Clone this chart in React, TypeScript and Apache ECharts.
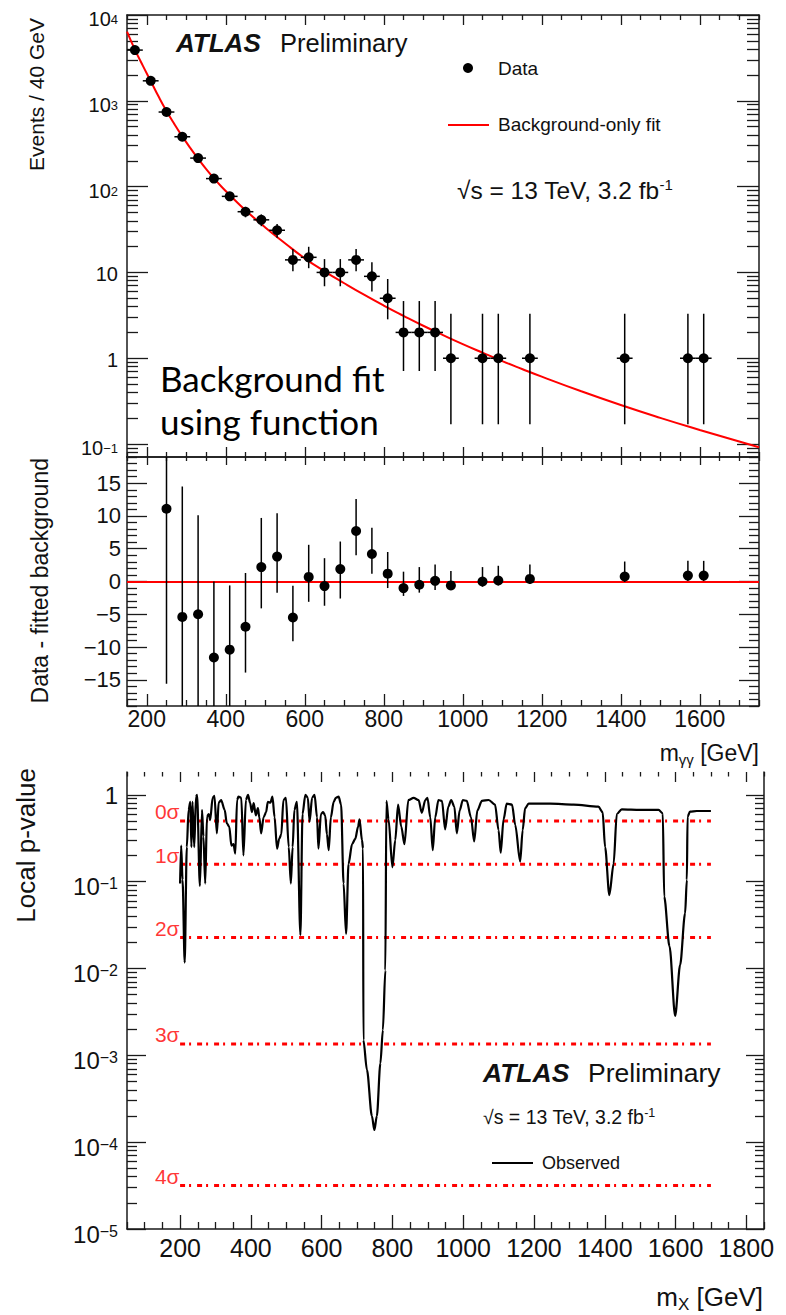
import React, { useEffect, useRef } from "react";
import * as echarts from "echarts";

// ---------------- data: top panel (events / 40 GeV) ----------------
const dataX = [170, 210, 250, 290, 330, 370, 410, 450, 490, 530, 570, 610, 650, 690, 730, 770, 810, 850, 890, 930, 970, 1050, 1090, 1170, 1410, 1570, 1610];
const dataY = [3900, 1710, 740, 381, 215, 124, 77, 51, 41, 31, 14, 15, 10, 10, 14, 9, 5, 2, 2, 2, 1, 1, 1, 1, 1, 1, 1];
const dataErrLo = [3838, 1669, 713, 362, 200, 113, 68.2, 43.9, 34.6, 25.4, 10.3, 11.2, 6.9, 6.9, 10.3, 6.0, 2.84, 0.71, 0.71, 0.71, 0.17, 0.17, 0.17, 0.17, 0.17, 0.17, 0.17];
const dataErrHi = [3962, 1751, 767, 401, 230, 135, 85.8, 58.1, 47.4, 36.6, 18.8, 19.9, 14.3, 14.3, 18.8, 13.1, 8.38, 4.64, 4.64, 4.64, 3.3, 3.3, 3.3, 3.3, 3.3, 3.3, 3.3];
const binHalfWidth = 20;

const fitX = [150, 170, 190, 210, 230, 250, 270, 290, 310, 330, 350, 370, 390, 410, 450, 500, 550, 600, 650, 700, 750, 800, 850, 900, 950, 1000, 1050, 1100, 1150, 1200, 1300, 1400, 1500, 1600, 1700, 1750];
const fitY = [6400, 3950, 2570, 1700, 1120, 760, 535, 385, 283, 212, 161, 125, 99, 80, 53, 33.4, 21.9, 14.6, 10.3, 7.48, 5.5, 4.11, 3.12, 2.39, 1.86, 1.46, 1.16, 0.927, 0.75, 0.61, 0.412, 0.285, 0.202, 0.146, 0.107, 0.0916];

// ---------------- data: residual panel ----------------
const resX = [250, 290, 330, 370, 410, 450, 490, 530, 570, 610, 650, 690, 730, 770, 810, 850, 890, 930, 970, 1050, 1090, 1170, 1410, 1570, 1610];
const resY = [11.1, -5.4, -5.0, -11.6, -10.4, -6.9, 2.2, 3.8, -5.5, 0.7, -0.7, 1.9, 7.7, 4.2, 1.2, -1.0, -0.5, 0.1, -0.6, 0.0, 0.15, 0.4, 0.76, 0.9, 0.9];
const resLo = [-15.6, -25, -20, -23, -19.5, -13.9, -4.1, -1.7, -9.1, -3.1, -3.7, -2.6, 4.0, 1.2, -1.0, -2.2, -1.7, -1.3, -1.3, -0.8, -0.6, -0.4, -0.07, 0.07, 0.07];
const resHi = [38, 14.5, 10.1, 0.0, -0.6, 1.3, 9.7, 10.4, -0.66, 5.6, 3.56, 6.1, 12.6, 8.2, 4.5, 1.5, 2.2, 2.6, 1.6, 2.2, 2.4, 2.6, 3.05, 3.15, 3.15];

// ---------------- data: local p-value panel ----------------
const pX = [200, 203, 207, 213, 219, 224, 229, 232, 235, 240, 245, 248, 256, 262, 266, 271, 276, 281, 285, 292, 297, 304, 309, 316, 326, 332, 339, 345, 351, 356, 361, 365, 373, 379, 386, 392, 398, 403, 408, 414, 420, 424, 429, 436, 443, 448, 455, 461, 467, 474, 480, 486, 492, 499, 507, 513, 518, 523, 530, 540, 546, 554, 561, 566, 573, 580, 587, 591, 598, 604, 610, 615, 620, 626, 634, 640, 648, 655, 662, 669, 676, 686, 695, 703, 707, 714, 717, 718, 728, 742, 749, 756, 766, 773, 780, 783, 789, 800, 808, 816, 825, 834, 845, 860, 874, 883, 893, 899, 907, 914, 921, 930, 940, 949, 958, 966, 975, 982, 990, 999, 1010, 1022, 1031, 1040, 1053, 1072, 1090, 1100, 1106, 1114, 1123, 1138, 1147, 1161, 1168, 1175, 1185, 1246, 1312, 1382, 1394, 1401, 1413, 1425, 1434, 1448, 1500, 1552, 1564, 1568, 1583, 1599, 1613, 1627, 1632, 1634, 1641, 1660, 1700];
const pY = [0.095, 0.26, 0.105, 0.0117, 0.25, 0.67, 0.83, 0.25, 0.83, 0.25, 0.95, 1.0, 0.089, 0.67, 0.33, 0.095, 0.56, 0.6, 0.51, 0.92, 0.97, 0.36, 0.81, 0.87, 0.67, 0.47, 0.43, 0.26, 0.27, 0.21, 0.87, 0.95, 0.92, 0.2, 0.87, 1.0, 0.8, 0.63, 0.8, 0.58, 0.7, 0.55, 0.36, 0.55, 0.63, 0.83, 0.81, 0.95, 0.55, 0.24, 0.31, 0.35, 0.87, 0.92, 0.25, 0.095, 0.25, 0.67, 0.83, 0.0243, 0.6, 1.0, 0.92, 0.49, 0.92, 1.0, 0.55, 0.24, 0.6, 0.63, 0.58, 0.35, 0.23, 0.55, 0.83, 0.92, 0.95, 0.77, 0.095, 0.025, 0.16, 0.27, 0.31, 0.43, 0.52, 0.3, 0.24, 0.0015, 0.00068, 0.0002, 0.000138, 0.0002, 0.00081, 0.00195, 0.0095, 0.85, 0.52, 0.146, 0.3, 0.77, 0.43, 0.27, 0.87, 0.92, 0.87, 0.62, 0.87, 0.92, 0.55, 0.23, 0.55, 0.87, 0.85, 0.4, 0.73, 0.87, 0.73, 0.36, 0.66, 0.87, 0.85, 0.55, 0.29, 0.66, 0.85, 0.87, 0.77, 0.39, 0.215, 0.52, 0.79, 0.77, 0.45, 0.17, 0.39, 0.7, 0.79, 0.79, 0.77, 0.73, 0.63, 0.25, 0.07, 0.16, 0.6, 0.68, 0.67, 0.67, 0.61, 0.067, 0.018, 0.00284, 0.011, 0.043, 0.105, 0.56, 0.64, 0.65, 0.65];

const sigmaP = [0.5, 0.1587, 0.02275, 0.00135, 0.0000317];
const sigmaLabels = ["0σ", "1σ", "2σ", "3σ", "4σ"];
const sigmaRange = [200, 1700];

// ---------------- tick labels ----------------
const topXMajor = [200, 400, 600, 800, 1000, 1200, 1400, 1600];
const pXMajor = [200, 400, 600, 800, 1000, 1200, 1400, 1600, 1800];
const topYDecades = [-1, 0, 1, 2, 3, 4];
const pYDecades = [-5, -4, -3, -2, -1, 0];
const resYMajor = [-15, -10, -5, 0, 5, 10, 15];

// ---------------- layout ----------------
const FF = "'Liberation Sans', Arial, Helvetica, sans-serif";
const AXC = "#1a1a1a";
const TXT = "#111";
const TOP_YMIN = -1.151, TOP_YMAX = 4;
const P_YMIN = -5, P_YMAX = 0.262;

const lg = (v: number) => Math.log10(v);

function stepTicks(a: number, b: number, s: number, skip: number[]) {
  const r: number[] = [];
  for (let v = a; v <= b + 1e-9; v += s) {
    const vv = Math.round(v * 1000) / 1000;
    if (skip.indexOf(vv) < 0) r.push(vv);
  }
  return r;
}
function logMinor(d0: number, d1: number, lo: number, hi: number) {
  const r: number[] = [];
  for (let d = d0; d <= d1; d++) {
    for (let k = 2; k <= 9; k++) {
      const v = Math.log10(k) + d;
      if (v > lo && v < hi) r.push(v);
    }
  }
  return r;
}

function mkAxis(gridIndex: number, position: string, min: number, max: number, ticks: number[], len: number, showLine: boolean, label?: any) {
  return {
    type: "value",
    gridIndex,
    position,
    min,
    max,
    axisLine: { show: showLine, onZero: false, lineStyle: { color: AXC, width: 1.5 } },
    axisTick: { show: true, inside: true, length: len, customValues: ticks, lineStyle: { color: AXC, width: 1.3 } },
    axisLabel: label ? Object.assign({ show: true, fontFamily: FF, color: TXT }, label) : { show: false },
    splitLine: { show: false },
    minorTick: { show: false },
    axisPointer: { show: false },
  };
}

const logFmt = (v: number) => {
  const e = Math.round(v);
  if (e === 0) return "{c|1}";
  if (e === 1) return "{c|10}";
  return "{b|10}{s|" + (e < 0 ? "−" + -e : String(e)) + "}";
};
const plainFmt = (v: number) => String(Math.round(v));

const errRender = (withH: boolean) => (params: any, api: any) => {
  const x = api.value(0), y = api.value(1), lo = api.value(2), hi = api.value(3);
  const a = api.coord([x, lo]);
  const b = api.coord([x, hi]);
  const children: any[] = [
    { type: "line", shape: { x1: a[0], y1: a[1], x2: b[0], y2: b[1] }, style: { stroke: "#000", lineWidth: 1.5 } },
  ];
  if (withH) {
    const l = api.coord([x - binHalfWidth, y]);
    const r = api.coord([x + binHalfWidth, y]);
    children.push({ type: "line", shape: { x1: l[0], y1: l[1], x2: r[0], y2: r[1] }, style: { stroke: "#000", lineWidth: 1.5 } });
  }
  return { type: "group", children };
};

const txt = (x: number, y: number, text: string, fontSize: number, extra: any = {}) => ({
  type: "text",
  x,
  y,
  z: 100,
  style: Object.assign({ text, fontSize, fontFamily: FF, fill: TXT, align: "left", verticalAlign: "middle" }, extra),
});

function buildOption() {
  const topXMinor = stepTicks(150, 1750, 50, topXMajor);
  const pXMinor = stepTicks(50, 1850, 50, pXMajor);
  const topYMinor = logMinor(-2, 3, TOP_YMIN, TOP_YMAX);
  const pYMinor = logMinor(-5, 0, P_YMIN, P_YMAX);
  const resYMinor = stepTicks(-19, 19, 1, resYMajor);

  const richTop = {
    b: { fontSize: 20, lineHeight: 20, padding: [8, 0, 0, 0], fontFamily: FF, color: TXT },
    s: { fontSize: 13, lineHeight: 13, verticalAlign: "top", padding: [8, 0, 0, 0], fontFamily: FF, color: TXT },
    c: { fontSize: 20, lineHeight: 20, padding: [4, 0, 0, 0], fontFamily: FF, color: TXT },
  };
  const richP = {
    b: { fontSize: 24, lineHeight: 24, padding: [10, 0, 0, 0], fontFamily: FF, color: TXT },
    s: { fontSize: 16, lineHeight: 16, verticalAlign: "top", padding: [6, 0, 0, 0], fontFamily: FF, color: TXT },
    c: { fontSize: 24, lineHeight: 24, padding: [2, 0, 0, 0], fontFamily: FF, color: TXT },
  };

  const xAxis = [
    // grid 0
    mkAxis(0, "bottom", 150, 1750, topXMajor, 10, true),
    mkAxis(0, "bottom", 150, 1750, topXMinor, 5, false),
    mkAxis(0, "top", 150, 1750, topXMajor, 10, true),
    mkAxis(0, "top", 150, 1750, topXMinor, 5, false),
    // grid 1
    mkAxis(1, "bottom", 150, 1750, topXMajor, 12, true, { customValues: topXMajor, fontSize: 23, margin: 1, formatter: plainFmt }),
    mkAxis(1, "bottom", 150, 1750, topXMinor, 6, false),
    mkAxis(1, "top", 150, 1750, topXMajor, 8, true),
    mkAxis(1, "top", 150, 1750, topXMinor, 4, false),
    // grid 2
    mkAxis(2, "bottom", 50, 1850, pXMajor, 14, true, { customValues: pXMajor, fontSize: 25, margin: 6, formatter: plainFmt }),
    mkAxis(2, "bottom", 50, 1850, pXMinor, 7, false),
    mkAxis(2, "top", 50, 1850, pXMajor, 10, false),
    mkAxis(2, "top", 50, 1850, pXMinor, 4.5, false),
  ];
  const yAxis = [
    mkAxis(0, "left", TOP_YMIN, TOP_YMAX, topYDecades, 21, true, { customValues: topYDecades, formatter: logFmt, rich: richTop, margin: 9 }),
    mkAxis(0, "left", TOP_YMIN, TOP_YMAX, topYMinor, 11, false),
    mkAxis(0, "right", TOP_YMIN, TOP_YMAX, topYDecades, 22, true),
    mkAxis(0, "right", TOP_YMIN, TOP_YMAX, topYMinor, 12, false),
    mkAxis(1, "left", -19, 19, resYMajor, 20, true, {
      customValues: resYMajor,
      fontSize: 22,
      margin: 6,
      padding: [5, 0, 0, 0],
      formatter: (v: number) => (v < 0 ? "−" + -v : String(v)),
    }),
    mkAxis(1, "left", -19, 19, resYMinor, 10, false),
    mkAxis(1, "right", -19, 19, resYMajor, 20, true),
    mkAxis(1, "right", -19, 19, resYMinor, 10, false),
    mkAxis(2, "left", P_YMIN, P_YMAX, pYDecades, 19, true, { customValues: pYDecades, formatter: logFmt, rich: richP, margin: 9 }),
    mkAxis(2, "left", P_YMIN, P_YMAX, pYMinor, 10, false),
    mkAxis(2, "right", P_YMIN, P_YMAX, pYDecades, 18, true),
    mkAxis(2, "right", P_YMIN, P_YMAX, pYMinor, 9, false),
  ];

  const series: any[] = [
    {
      type: "line",
      xAxisIndex: 0,
      yAxisIndex: 0,
      data: fitX.map((x, i) => [x, lg(fitY[i])]),
      smooth: true,
      symbol: "none",
      lineStyle: { color: "#ff0000", width: 2 },
      z: 2,
      silent: true,
    },
    {
      type: "custom",
      xAxisIndex: 0,
      yAxisIndex: 0,
      clip: true,
      data: dataX.map((x, i) => [x, lg(dataY[i]), lg(dataErrLo[i]), lg(dataErrHi[i])]),
      renderItem: errRender(true),
      z: 3,
      silent: true,
    },
    {
      type: "scatter",
      xAxisIndex: 0,
      yAxisIndex: 0,
      data: dataX.map((x, i) => [x, lg(dataY[i])]),
      symbol: "circle",
      symbolSize: 10,
      itemStyle: { color: "#000", opacity: 1 },
      z: 4,
      silent: true,
    },
    {
      type: "custom",
      xAxisIndex: 4,
      yAxisIndex: 4,
      clip: true,
      data: resX.map((x, i) => [x, resY[i], resLo[i], resHi[i]]),
      renderItem: errRender(false),
      z: 3,
      silent: true,
    },
    {
      type: "scatter",
      xAxisIndex: 4,
      yAxisIndex: 4,
      data: resX.map((x, i) => [x, resY[i]]),
      symbol: "circle",
      symbolSize: 10,
      itemStyle: { color: "#000", opacity: 1 },
      z: 4,
      silent: true,
      markLine: {
        silent: true,
        symbol: ["none", "none"],
        label: { show: false },
        lineStyle: { color: "#ff0000", width: 2.2, type: "solid" },
        data: [{ yAxis: 0 }],
        z: 2,
      },
    },
    ...sigmaP.map((p) => ({
      type: "line",
      xAxisIndex: 8,
      yAxisIndex: 8,
      data: [
        [sigmaRange[0], lg(p)],
        [sigmaRange[1], lg(p)],
      ],
      symbol: "none",
      lineStyle: { color: "#ff0000", width: 3, type: [5, 4, 2, 6] },
      z: 1,
      silent: true,
    })),
    {
      type: "scatter",
      xAxisIndex: 8,
      yAxisIndex: 8,
      data: sigmaP.map((p) => [sigmaRange[0], lg(p)]),
      symbolSize: 1,
      itemStyle: { color: "rgba(0,0,0,0)" },
      label: {
        show: true,
        position: "left",
        distance: 0,
        offset: [0, -9],
        formatter: (pp: any) => sigmaLabels[pp.dataIndex],
        color: "#ff0000",
        fontSize: 21,
        fontFamily: FF,
      },
      silent: true,
      z: 5,
    },
    {
      type: "line",
      xAxisIndex: 8,
      yAxisIndex: 8,
      data: pX.map((x, i) => [x, lg(pY[i])]),
      smooth: 0.3,
      smoothMonotone: "x",
      symbol: "none",
      lineStyle: { color: "#000", width: 2.2 },
      z: 3,
      silent: true,
    },
  ];

  const supRich = (base: number, sup: number) => ({
    a: { fontSize: base, lineHeight: base + 2, fontFamily: FF, fill: TXT },
    s: { fontSize: sup, lineHeight: sup, verticalAlign: "top", fontFamily: FF, fill: TXT },
  });

  const graphicEls: any[] = [
    // top panel annotations
    txt(176, 43, "ATLAS", 26, { fontWeight: "bold", fontStyle: "italic" }),
    txt(280, 43, "Preliminary", 25.5),
    { type: "circle", z: 100, shape: { cx: 468, cy: 68, r: 5 }, style: { fill: "#000" } },
    txt(498, 68, "Data", 19),
    { type: "line", z: 100, shape: { x1: 448, y1: 125, x2: 489, y2: 125 }, style: { stroke: "#ff0000", lineWidth: 2 } },
    txt(498, 124, "Background-only fit", 19),
    {
      type: "text",
      x: 457,
      y: 190,
      z: 100,
      style: { text: "{a|√s = 13 TeV, 3.2 fb}{s|-1}", rich: supRich(24.5, 15), verticalAlign: "middle", align: "left" },
    },
    txt(160, 378, "Background fit", 35, { fontFamily: "Lato, 'Open Sans', sans-serif", fill: "#000" }),
    txt(160, 421, "using function", 35, { fontFamily: "Lato, 'Open Sans', sans-serif", fill: "#000" }),
    // axis titles
    { type: "text", x: 36.5, y: 18, rotation: Math.PI / 2, z: 100, style: { text: "Events / 40 GeV", fontSize: 21, fontFamily: FF, fill: TXT, align: "right", verticalAlign: "middle" } },
    { type: "text", x: 40, y: 458, rotation: Math.PI / 2, z: 100, style: { text: "Data - fitted background", fontSize: 23, fontFamily: FF, fill: TXT, align: "right", verticalAlign: "middle" } },
    {
      type: "text",
      x: 759,
      y: 753,
      z: 100,
      style: {
        text: "{a|m}{b|γγ}{a| [GeV]}",
        align: "right",
        verticalAlign: "middle",
        rich: {
          a: { fontSize: 23, lineHeight: 28, fontFamily: FF, fill: TXT },
          b: { fontSize: 15, lineHeight: 14, verticalAlign: "bottom", fontFamily: FF, fill: TXT },
        },
      },
    },
    { type: "text", x: 25.5, y: 768, rotation: Math.PI / 2, z: 100, style: { text: "Local p-value", fontSize: 26, fontFamily: FF, fill: TXT, align: "right", verticalAlign: "middle" } },
    {
      type: "text",
      x: 763,
      y: 1297,
      z: 100,
      style: {
        text: "{a|m}{b|X}{a| [GeV]}",
        align: "right",
        verticalAlign: "middle",
        rich: {
          a: { fontSize: 26, lineHeight: 32, fontFamily: FF, fill: TXT },
          b: { fontSize: 17, lineHeight: 14, verticalAlign: "bottom", fontFamily: FF, fill: TXT },
        },
      },
    },
    // bottom panel annotations
    txt(483, 1073, "ATLAS", 26.5, { fontWeight: "bold", fontStyle: "italic" }),
    txt(588, 1073, "Preliminary", 26.5),
    {
      type: "text",
      x: 483,
      y: 1117,
      z: 100,
      style: { text: "{a|√s = 13 TeV, 3.2 fb}{s|-1}", rich: supRich(19.5, 12.5), verticalAlign: "middle", align: "left" },
    },
    { type: "line", z: 100, shape: { x1: 492, y1: 1163, x2: 533, y2: 1163 }, style: { stroke: "#000", lineWidth: 2 } },
    txt(542, 1163, "Observed", 18),
  ];

  return {
    animation: false,
    backgroundColor: "#ffffff",
    grid: [
      { left: 127, top: 15, width: 632, height: 442, outerBoundsMode: "none", containLabel: false },
      { left: 127, top: 457, width: 632, height: 249, outerBoundsMode: "none", containLabel: false },
      { left: 127, top: 772, width: 637, height: 457, outerBoundsMode: "none", containLabel: false },
    ],
    xAxis,
    yAxis,
    series,
    graphic: { elements: graphicEls },
  };
}

export default function App() {
  const ref = useRef<HTMLDivElement>(null);
  useEffect(() => {
    document.body.style.margin = "0";
    if (!ref.current) return;
    const chart = echarts.init(ref.current, undefined, { renderer: "svg" });
    chart.setOption(buildOption() as any);
    return () => {
      chart.dispose();
    };
  }, []);
  return <div ref={ref} style={{ position: "absolute", left: 0, top: 0, width: 786, height: 1315, background: "#fff" }} />;
}
